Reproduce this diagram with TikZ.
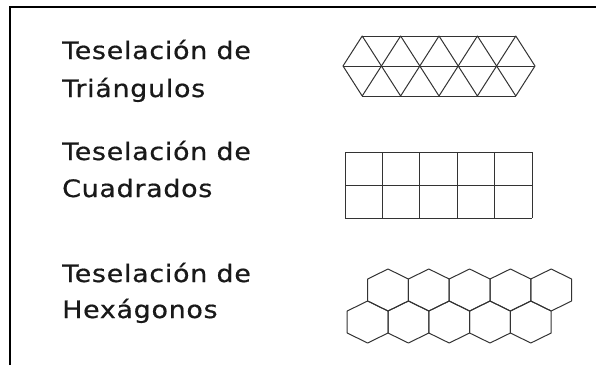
\documentclass[tikz,border=0pt]{standalone}
\usepackage{fontspec}
\setmainfont{DejaVu Sans}[LetterSpace=3,FakeStretch=1.12,FakeBold=0.6]
\begin{document}
\begin{tikzpicture}[x=1pt,y=-1pt,
    rotulo/.style={anchor=base west,inner sep=0pt,text=black!90,font=\fontsize{24}{28}\selectfont},
    tile/.style={line width=1pt,draw=black!80,line join=round}]
\useasboundingbox (0,0) rectangle (596,365);
\draw[line width=2pt] (10,365) -- (10,7) -- (596,7);
% textos
\node[rotulo] (t1) at (62,59) {Teselación de};
\node[rotulo] (n1) at (62,97) {Triángulos};
\node[rotulo] (t2) at (62,160) {Teselación de};
\node[rotulo] (n2) at (62,197) {Cuadrados};
\node[rotulo] (t3) at (62,282) {Teselación de};
\node[rotulo] (n3) at (62,318) {Hexágonos};
% triangulos
\foreach \k in {0,...,5} {
    \coordinate (m\k) at (343+38.4*\k,66);
}
\foreach \k in {0,...,4} {
    \coordinate (a\k) at (362.2+38.4*\k,36);
    \coordinate (b\k) at (362.2+38.4*\k,96);
}
\draw[tile] (a0) -- (a4) (m0) -- (m5) (b0) -- (b4);
\foreach \k[count=\n from 1] in {0,...,4} {
    \draw[tile] (m\k) -- (a\k) -- (m\n) -- (b\k) -- cycle;
}
% cuadrados
\foreach \i in {0,...,5} {
    \draw[tile] (345+37.4*\i,152) -- (345+37.4*\i,218);
}
\foreach \j in {0,1,2} {
    \draw[tile] (345,152+33*\j) -- (532,152+33*\j);
}
% hexagonos
\foreach \hx/\hy in {388/290,367.6/322} {
    \foreach \k in {0,...,4} {
        \draw[tile] (\hx+40.8*\k,\hy-21) -- ++(20.4,10) -- ++(0,22)
            -- ++(-20.4,10) -- ++(-20.4,-10) -- ++(0,-22) -- cycle;
    }
}
\end{tikzpicture}
\end{document}
